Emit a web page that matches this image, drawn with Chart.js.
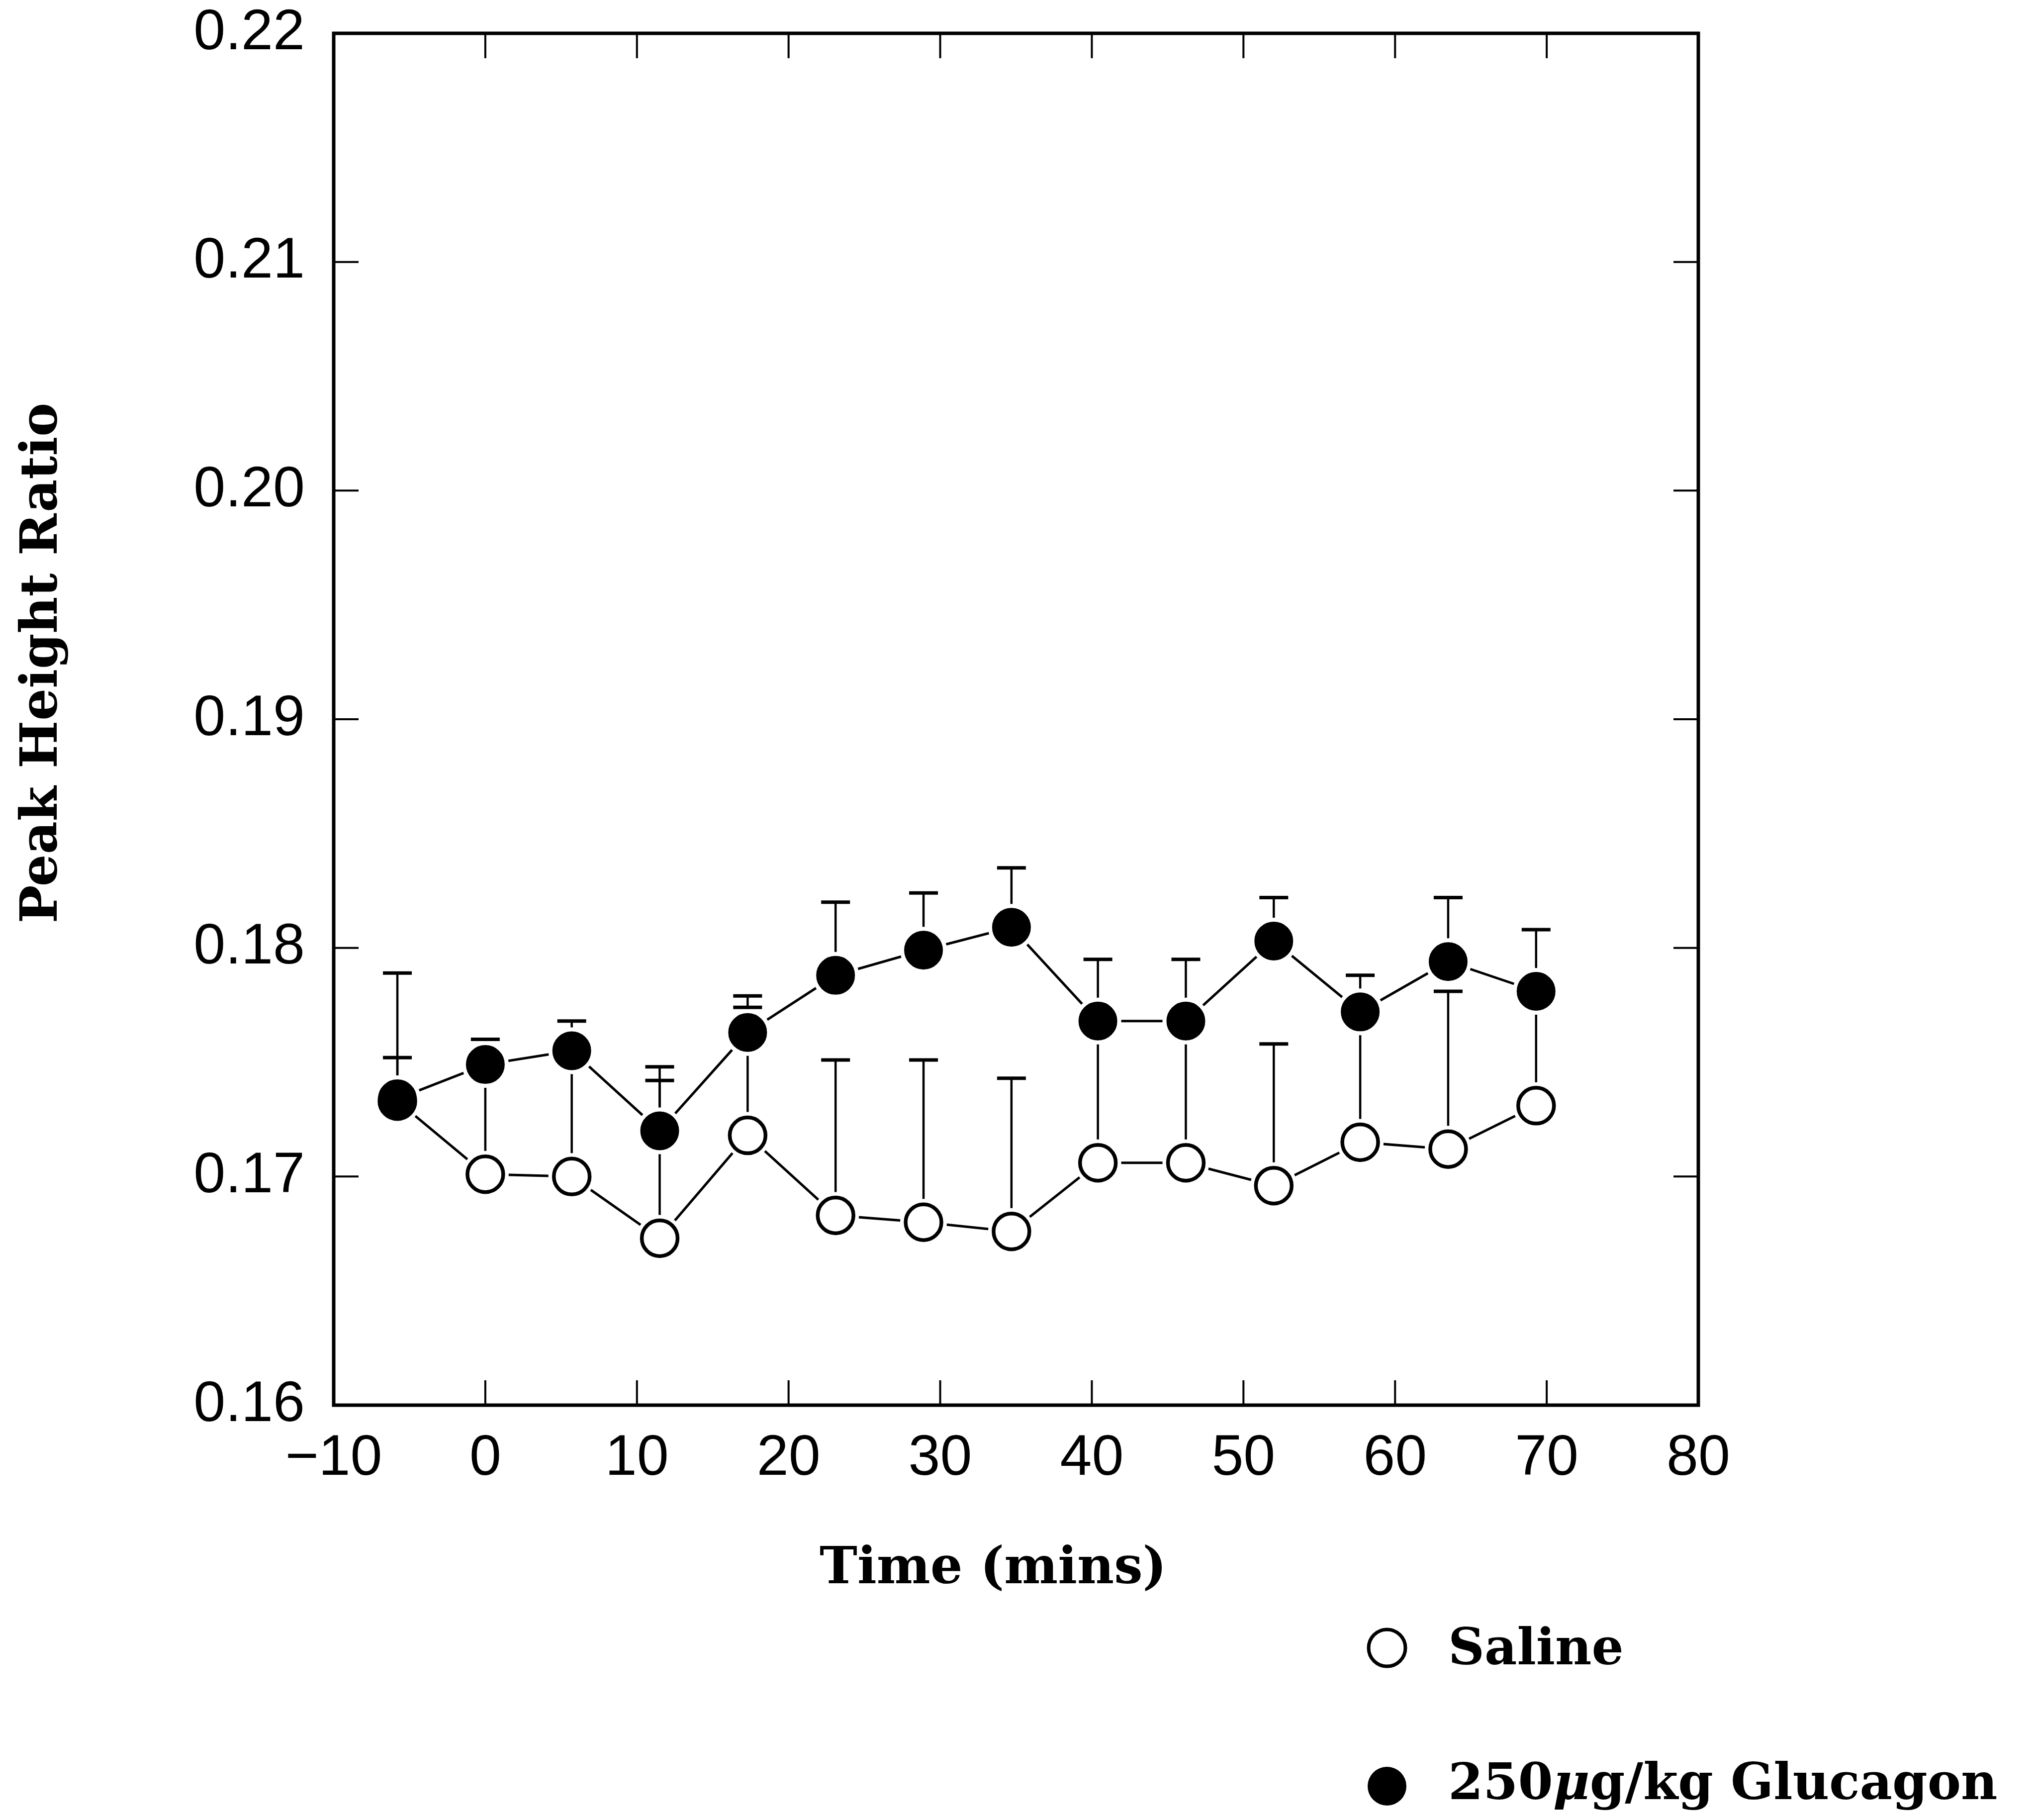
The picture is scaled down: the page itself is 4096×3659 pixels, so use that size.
<!DOCTYPE html>
<html>
<head>
<meta charset="utf-8">
<title>Peak Height Ratio</title>
<script src="https://cdn.jsdelivr.net/npm/chart.js@4/dist/chart.umd.min.js"></script>
<style>
html, body { margin: 0; padding: 0; background: #fff; }
canvas { display: block; }
</style>
</head>
<body>
<canvas id="myChart" width="4096" height="3659"></canvas>
<script>
// sampling times (mins) and group means, with upward SEM bars
var times = [-5.8, 0, 5.7, 11.5, 17.3, 23.1, 28.9, 34.7, 40.4, 46.2, 52.0, 57.7, 63.5, 69.3];
var salineMean = [0.1733, 0.1701, 0.1700, 0.1673, 0.1718, 0.1683, 0.1680, 0.1676, 0.1706, 0.1706, 0.1696, 0.1715, 0.1712, 0.1731];
var salineSem = [0.0019, 0.0049, 0.0055, 0.0069, 0.0056, 0.0068, 0.0071, 0.0067, 0.0061, 0.0061, 0.0062, 0.0056, 0.0069, 0.0049];
var glucMean = [0.1734, 0.1749, 0.1755, 0.1720, 0.1763, 0.1788, 0.1799, 0.1809, 0.1768, 0.1768, 0.1803, 0.1772, 0.1794, 0.1781];
var glucSem = [0.0055, 0.0011, 0.0013, 0.0028, 0.0016, 0.0032, 0.0025, 0.0026, 0.0027, 0.0027, 0.0019, 0.0016, 0.0028, 0.0027];
var xTicks = [-10, 0, 10, 20, 30, 40, 50, 60, 70, 80];
var yTicks = [0.16, 0.17, 0.18, 0.19, 0.20, 0.21, 0.22];
var seriesNames = ["Saline", "250\u03bcg/kg Glucagon"];

var serif = "bold 102px 'DejaVu Serif'";
var sans = "'Liberation Sans', Arial, sans-serif";

var points = function (ys) {
    return times.map(function (t, i) { return { x: t, y: ys[i] }; });
};

var line = function (ctx, x1, y1, x2, y2) {
    ctx.beginPath();
    ctx.moveTo(x1, y1);
    ctx.lineTo(x2, y2);
    ctx.stroke();
};

// box, inward ticks, error bars, axis titles and the key
var decor = {
    id: 'decor',
    beforeDatasetsDraw: function (chart) {
        var ctx = chart.ctx, a = chart.chartArea;
        var xs = chart.scales.x, ys = chart.scales.y;
        ctx.save();
        ctx.strokeStyle = '#000';
        ctx.lineCap = 'butt';

        var bars = function (mean, sem) {
            for (var i = 0; i < times.length; i++) {
                var px = xs.getPixelForValue(times[i]);
                var y0 = ys.getPixelForValue(mean[i]);
                var y1 = ys.getPixelForValue(mean[i] + sem[i]);
                ctx.lineWidth = 4.5;
                line(ctx, px, y0, px, y1);
                ctx.lineWidth = 7;
                line(ctx, px - 29, y1, px + 29, y1);
            }
        };
        bars(salineMean, salineSem);
        bars(glucMean, glucSem);

        ctx.lineWidth = 7;
        ctx.strokeRect(a.left, a.top, a.right - a.left, a.bottom - a.top);

        ctx.lineWidth = 4;
        xs.ticks.forEach(function (t) {
            if (t.value <= xs.min || t.value >= xs.max) return;
            var px = xs.getPixelForValue(t.value);
            line(ctx, px, a.bottom, px, a.bottom - 50);
            line(ctx, px, a.top, px, a.top + 50);
        });
        ys.ticks.forEach(function (t) {
            if (t.value <= ys.min + 1e-9 || t.value >= ys.max - 1e-9) return;
            var py = ys.getPixelForValue(t.value);
            line(ctx, a.left, py, a.left + 50, py);
            line(ctx, a.right, py, a.right - 50, py);
        });
        ctx.restore();
    },
    afterDraw: function (chart) {
        var ctx = chart.ctx;
        ctx.save();
        ctx.fillStyle = '#000';
        ctx.strokeStyle = '#000';
        ctx.font = serif;
        ctx.textBaseline = 'alphabetic';

        ctx.textAlign = 'center';
        ctx.fillText("Time (mins)", 1997, 3183);

        ctx.save();
        ctx.translate(114, 1333);
        ctx.rotate(-Math.PI / 2);
        ctx.fillText("Peak Height Ratio", 0, 0);
        ctx.restore();

        // key
        ctx.lineWidth = 7;
        ctx.beginPath();
        ctx.arc(2789, 3313, 37, 0, Math.PI * 2);
        ctx.fillStyle = '#fff';
        ctx.fill();
        ctx.stroke();
        ctx.fillStyle = '#000';
        ctx.beginPath();
        ctx.arc(2789, 3591, 39, 0, Math.PI * 2);
        ctx.fill();

        ctx.textAlign = 'left';
        ctx.font = "bold 101px 'DejaVu Serif'";
        ctx.fillText(seriesNames[0], 2912, 3346);

        var parts = seriesNames[1].split("\u03bc");
        var x = 2912;
        ctx.fillText(parts[0], x, 3617);
        x += ctx.measureText(parts[0]).width;
        ctx.font = "italic bold 101px 'DejaVu Serif'";
        ctx.fillText("\u03bc", x, 3617);
        x += ctx.measureText("\u03bc").width;
        ctx.font = "bold 101px 'DejaVu Serif'";
        ctx.fillText(parts[1], x, 3617);
        ctx.restore();
    }
};

var plot = function () {
    var ctx = document.getElementById("myChart").getContext("2d");
    var tickFont = { family: sans, size: 115 };
    new Chart(ctx, {
        type: 'line',
        data: {
            datasets: [
                { data: points(salineMean), borderColor: '#000', borderWidth: 5, pointRadius: 0, order: 5 },
                { data: points(glucMean), borderColor: '#000', borderWidth: 5, pointRadius: 0, order: 4 },
                { data: points(salineMean), showLine: false, pointRadius: 47, pointBorderWidth: 0,
                  pointBackgroundColor: '#fff', order: 3 },
                { data: points(glucMean), showLine: false, pointRadius: 47, pointBorderWidth: 0,
                  pointBackgroundColor: '#fff', order: 3 },
                { label: seriesNames[0], data: points(salineMean), showLine: false, pointRadius: 36,
                  pointBorderWidth: 7.5, pointBorderColor: '#000', pointBackgroundColor: '#fff', order: 2 },
                { label: seriesNames[1], data: points(glucMean), showLine: false, pointRadius: 38,
                  pointBorderWidth: 2, pointBorderColor: '#000', pointBackgroundColor: '#000', order: 1 }
            ]
        },
        options: {
            responsive: false,
            animation: false,
            devicePixelRatio: 1,
            layout: { autoPadding: false, padding: { top: 67, right: 681, bottom: 634, left: 0 } },
            plugins: { legend: { display: false }, tooltip: { enabled: false } },
            scales: {
                x: {
                    type: 'linear',
                    min: -10,
                    max: 80,
                    afterFit: function (s) { s.height = 200; },
                    afterBuildTicks: function (s) { s.ticks = xTicks.map(function (v) { return { value: v }; }); },
                    grid: { display: false, drawTicks: false },
                    border: { display: false },
                    ticks: {
                        color: '#000',
                        font: tickFont,
                        padding: 39,
                        maxRotation: 0,
                        callback: function (v) { return v < 0 ? "\u2212" + Math.abs(v) : String(v); }
                    }
                },
                y: {
                    min: 0.16,
                    max: 0.22,
                    afterFit: function (s) {
                        s.width = 671;
                        // labels sit beside the ticks; no extra room needed above/below
                        s.paddingTop = 0;
                        s.paddingBottom = 0;
                    },
                    afterBuildTicks: function (s) { s.ticks = yTicks.map(function (v) { return { value: v }; }); },
                    grid: { display: false, drawTicks: false },
                    border: { display: false },
                    ticks: {
                        color: '#000',
                        font: tickFont,
                        padding: 58,
                        callback: function (v) { return Number(v).toFixed(2); }
                    }
                }
            }
        },
        plugins: [decor]
    });
};

window.onload = function () {
    plot();
};
</script>
</body>
</html>
